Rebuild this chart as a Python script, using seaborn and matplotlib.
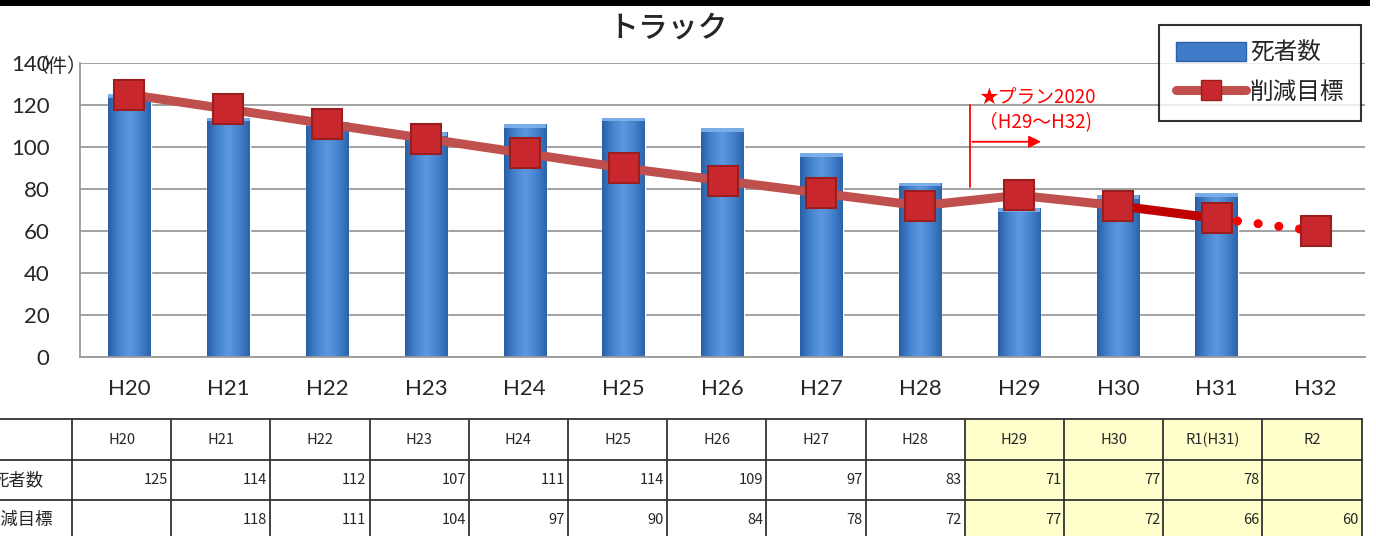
import numpy as np
import pandas as pd
import matplotlib
matplotlib.use("Agg")
import matplotlib.pyplot as plt
from matplotlib.colors import LinearSegmentedColormap
from matplotlib.lines import Line2D
from matplotlib.patches import Patch, Rectangle
import seaborn as sns

# data
years = ["H20", "H21", "H22", "H23", "H24", "H25", "H26", "H27", "H28",
         "H29", "H30", "H31", "H32"]
table_years = ["H20", "H21", "H22", "H23", "H24", "H25", "H26", "H27", "H28",
               "H29", "H30", "R1(H31)", "R2"]
deaths = [125, 114, 112, 107, 111, 114, 109, 97, 83, 71, 77, 78, np.nan]
targets = [np.nan, 118, 111, 104, 97, 90, 84, 78, 72, 77, 72, 66, 60]
row_labels = ["死者数", "削減目標"]

sns.set_style("white")
plt.rcParams["font.family"] = ["Noto Sans CJK JP", "DejaVu Sans"]

W, H = 1376, 536
fig = plt.figure(figsize=(W / 100, H / 100), dpi=100)
fig.patch.set_facecolor("white")
ax = fig.add_axes([80 / W, 1 - 357 / H, 1285 / W, 294 / H])

df = pd.DataFrame({"year": years, "deaths": deaths})
sns.barplot(data=df, x="year", y="deaths", order=years, color="#3f7bc8",
            width=0.43, errorbar=None, ax=ax, zorder=2)

# gradient look on the bars
cmap = LinearSegmentedColormap.from_list(
    "b", ["#2a5fa5", "#4683cf", "#5e97de", "#4683cf", "#2c63ab"])
grad = np.linspace(0, 1, 64)[None, :]
for p in list(ax.patches):
    h = p.get_height()
    if not np.isfinite(h) or h == 0:
        continue
    x0 = p.get_x()
    im = ax.imshow(grad, extent=[x0, x0 + p.get_width(), 0, h], aspect="auto",
                   cmap=cmap, zorder=2.1)
    im.set_clip_path(p)
    ax.add_patch(Rectangle((x0, h - 1.8), p.get_width(), 1.8, color="#80b2ec",
                           alpha=0.9, zorder=2.2, lw=0))

# target line: starts from the H20 actual value
line = list(targets)
line[0] = deaths[0]
xs = np.arange(len(years))
sns.lineplot(x=xs[:11], y=line[:11], color="#c0504d", lw=6.5, ax=ax, zorder=3)
ax.plot(xs[10:12], line[10:12], color="#c00000", lw=6.5, zorder=3,
        solid_capstyle="round")
ax.plot(xs[11:13], line[11:13], color="#ff0000", lw=6.5, ls=(0, (0.01, 2.3)),
        dash_capstyle="round", zorder=3)
ax.plot(xs, line, ls="none", marker="s", ms=21, mfc="#c8282d", mec="#9a1e1e",
        mew=1.5, zorder=4)

ax.set_xlim(-0.5, len(years) - 0.5)
ax.set_ylim(0, 140)
ax.set_yticks(range(0, 141, 20))
ax.yaxis.grid(True, color="#9a9a9a", lw=1.3)
ax.set_axisbelow(True)
for s in ["top", "right"]:
    ax.spines[s].set_visible(False)
for s in ["left", "bottom"]:
    ax.spines[s].set_color("#9a9a9a")
    ax.spines[s].set_linewidth(1.3)
ax.set_xlabel("")
ax.set_ylabel("")
ax.tick_params(axis="x", length=0, pad=16, labelsize=16)
ax.tick_params(axis="y", length=0, pad=22, labelsize=16)
for t in ax.get_xticklabels() + ax.get_yticklabels():
    t.set_family(["Lato", "DejaVu Sans"])

# plan annotation
ax.plot([8.5, 8.5], [81, 120], color="red", lw=1.3, zorder=5)
ax.annotate("", xy=(9.25, 102.5), xytext=(8.5, 102.5),
            arrowprops=dict(arrowstyle="-|>", color="red", lw=1.3,
                            mutation_scale=18), zorder=5)
ax.text(8.6, 123, "★プラン2020", color="red", fontsize=13.5, va="center",
        ha="left", zorder=5)
ax.text(8.6, 111.5, "（H29～H32)", color="red", fontsize=13.5, va="center",
        ha="left", zorder=5)

fig.text(668 / W, 1 - 28 / H, "トラック", fontsize=21.5, ha="center",
         va="center", fontweight="medium")
fig.text(28 / W, 1 - 66 / H, "（件）", fontsize=14, ha="left", va="center")

handles = [Patch(facecolor="#3f7bc8", edgecolor="#2c62a8"),
           Line2D([], [], color="#c0504d", lw=6.5, marker="s", ms=15,
                  mfc="#c8282d", mec="#9a1e1e", solid_capstyle="round")]
leg = fig.legend(handles, row_labels, loc="upper right",
                 bbox_to_anchor=(1361 / W, 1 - 25 / H), fontsize=17,
                 frameon=True, fancybox=False, edgecolor="black",
                 handlelength=3.0, handleheight=0.9, borderpad=0.7,
                 labelspacing=0.7, handletextpad=0.15, borderaxespad=0)
leg.get_frame().set_linewidth(1.5)

# top black bar and data table drawn in pixel coordinates
tab = fig.add_axes([0, 0, 1, 1], zorder=-1)
tab.set_xlim(0, W)
tab.set_ylim(H, 0)
tab.axis("off")
tab.add_patch(Rectangle((0, 0), 1370, 6, color="black", lw=0))

edges = 72 + 99.2 * np.arange(len(table_years) + 1)
row_y = [419, 460, 500, 540]
tab.add_patch(Rectangle((edges[9], row_y[0]), edges[-1] - edges[9], H - row_y[0],
                        color="#ffffcc", lw=0))
for y in row_y:
    tab.plot([0, edges[-1]], [y, y], color="#333333", lw=1.3)
for x in edges:
    tab.plot([x, x], [row_y[0], H], color="#333333", lw=1.3)
for i, name in enumerate(table_years):
    tab.text((edges[i] + edges[i + 1]) / 2, (row_y[0] + row_y[1]) / 2, name,
             ha="center", va="center", fontsize=10.5)
    for r, vals in enumerate([deaths, targets]):
        v = vals[i]
        if np.isfinite(v):
            tab.text(edges[i + 1] - 3, (row_y[r + 1] + row_y[r + 2]) / 2,
                     f"{int(v)}", ha="right", va="center", fontsize=10.5)
for r, name in enumerate(row_labels):
    tab.text(18, (row_y[r + 1] + row_y[r + 2]) / 2, name, ha="center",
             va="center", fontsize=12.5)

fig.savefig("out.png", dpi=100)
